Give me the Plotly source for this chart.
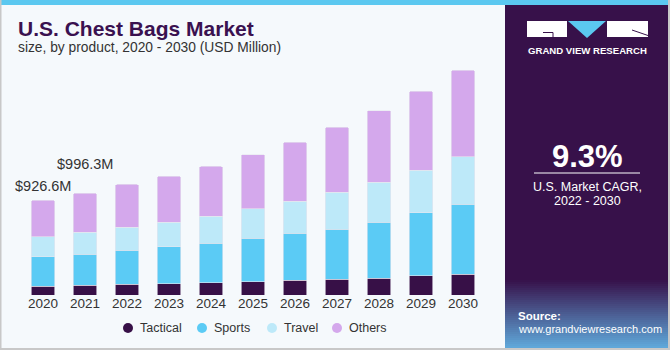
import plotly.graph_objects as go

years = ["2020", "2021", "2022", "2023", "2024", "2025", "2026", "2027", "2028", "2029", "2030"]
tactical = [88, 94, 104, 110, 120, 130, 144, 153, 166, 186, 202]
sports = [287, 307, 332, 361, 388, 427, 462, 491, 547, 618, 687]
travel = [193, 211, 225, 241, 264, 286, 312, 361, 391, 417, 462]
others = [358.6, 384.3, 420, 449, 485, 531, 576, 635, 700, 771, 849]
labels = {"2020": "$926.6M", "2021": "$996.3M"}
label_shift = {"2020": 14, "2021": 29}

colors = {"Tactical": "#371047", "Sports": "#5BCBF5", "Travel": "#BDE9F9", "Others": "#D4A8EC"}
W, H = 670, 350

fig = go.Figure()
series = [("Tactical", tactical), ("Sports", sports), ("Travel", travel), ("Others", others)]
for name, vals in series:
    fig.add_trace(go.Bar(x=years, y=vals, name=name, showlegend=False,
                         marker=dict(color=colors[name], line=dict(width=0.6, color="#E6E6EE"))))

totals = [a + b + c + d for a, b, c, d in zip(tactical, sports, travel, others)]
for i, y in enumerate(years):
    if y in labels:
        fig.add_annotation(x=i, y=totals[i], text=labels[y], showarrow=False, xref="x", yref="y",
                           yanchor="middle", yshift=label_shift[y], xshift=0,
                           font=dict(size=14.5, color="#333333", family="Liberation Sans"))

shapes = []
def px(x0, y0, x1, y1, **kw):
    d = dict(type="rect", xref="paper", yref="paper", x0=x0 / W, x1=x1 / W, y0=1 - y1 / H, y1=1 - y0 / H, layer="below")
    d.update(kw)
    return d

shapes.append(px(0, 0, W, H, fillcolor="#F5F9FC", line=dict(width=0)))
shapes.append(px(505, 0, 668, 348, fillcolor="#37114A", line=dict(width=0)))
c0 = (55, 17, 74)
c1 = (96, 170, 220)
n = 34
y_start, y_end = 280, 348
for k in range(n):
    t = (k + 0.5) / n
    r = int(c0[0] + (c1[0] - c0[0]) * t)
    g = int(c0[1] + (c1[1] - c0[1]) * t)
    b = int(c0[2] + (c1[2] - c0[2]) * t)
    ya = y_start + (y_end - y_start) * k / n
    yb = y_start + (y_end - y_start) * (k + 1) / n + 0.5
    shapes.append(px(505, ya, 668, yb, fillcolor=f"rgb({r},{g},{b})", line=dict(width=0)))
shapes.append(px(0, 0, W, 5, fillcolor="#5BC8F0", line=dict(width=0)))
shapes.append(px(0, 0, 1.5, H, fillcolor="#C8C8C8", line=dict(width=0)))
shapes.append(px(668, 0, W, H, fillcolor="#C8C8C8", line=dict(width=0)))
shapes.append(px(0, 348, W, H, fillcolor="#C8C8C8", line=dict(width=0)))

def ln(x0, y0, x1, y1, color, w):
    return dict(type="line", xref="paper", yref="paper", x0=x0 / W, x1=x1 / W, y0=1 - y0 / H, y1=1 - y1 / H,
                line=dict(color=color, width=w), layer="above")

shapes.append(px(527, 21, 567, 37, fillcolor="white", line=dict(width=0), layer="above"))
shapes.append(px(607, 21, 648, 37, fillcolor="white", line=dict(width=0), layer="above"))
shapes.append(dict(type="path", xref="paper", yref="paper",
                   path=f"M {568/W},{1-21/H} L {606/W},{1-21/H} L {587/W},{1-38/H} Z",
                   fillcolor="#5BC8F0", line=dict(width=0), layer="above"))
shapes.append(ln(543, 32.5, 553, 32.5, "#37114A", 1))
shapes.append(ln(553, 32.5, 553, 37, "#37114A", 1))
shapes.append(ln(632, 30, 648, 35.5, "#37114A", 1))
shapes.append(ln(534, 173, 640, 173, "#FFFFFF", 1))

# custom legend (circle markers + text)
legend_x = [128, 202, 272, 337]
legend_y = 328
for (name, _), lx in zip(series, legend_x):
    shapes.append(dict(type="circle", xref="paper", yref="paper",
                       x0=(lx - 5) / W, x1=(lx + 5) / W, y0=1 - (legend_y + 5) / H, y1=1 - (legend_y - 5) / H,
                       fillcolor=colors[name], line=dict(width=0), layer="above"))

fig.update_layout(shapes=shapes)

def ann(x, y, text, size, color, bold=False, xanchor="left", family="Liberation Sans"):
    fig.add_annotation(x=x / W, y=1 - y / H, xref="paper", yref="paper", text=f"<b>{text}</b>" if bold else text,
                       showarrow=False, xanchor=xanchor, yanchor="middle",
                       font=dict(size=size, color=color, family=family))

for (name, _), lx in zip(series, legend_x):
    ann(lx + 10, legend_y, name, 12.5, "#333333")

ann(16, 29, "U.S. Chest Bags Market", 21, "#3A1150", bold=True)
ann(16, 48, "size, by product, 2020 - 2030 (USD Million)", 13.8, "#333333")
ann(587.5, 51, "GRAND VIEW RESEARCH", 9.6, "#FFFFFF", bold=True, xanchor="center")
ann(587.5, 156, "9.3%", 31, "#FFFFFF", bold=True, xanchor="center")
ann(587.5, 187, "U.S. Market CAGR,", 12.5, "#FFFFFF", xanchor="center")
ann(587.5, 201, "2022 - 2030", 12.5, "#FFFFFF", xanchor="center")
ann(516, 316, "Source:", 11.5, "#FFFFFF", bold=True)
ann(516, 329, "www.grandviewresearch.com", 11, "#FFFFFF")

plot_l, plot_r = 22, 484
plot_t, plot_b = 60, 295
yr = (plot_b - plot_t) * 9.78

fig.update_layout(
    width=W, height=H,
    margin=dict(l=0, r=0, t=0, b=0, autoexpand=False),
    paper_bgcolor="#F5F9FC", plot_bgcolor="rgba(0,0,0,0)",
    barmode="stack", bargap=0.43, barcornerradius=2,
    font=dict(family="Liberation Sans", color="#333333"),
    xaxis=dict(type="category", categoryorder="array", categoryarray=years, range=[-0.5, 10.5],
               domain=[plot_l / W, plot_r / W], showgrid=False, showline=False, zeroline=False,
               tickfont=dict(size=13.5, color="#333333"), ticks="", automargin=False, anchor="y",
               ticklabelstandoff=-2),
    yaxis=dict(domain=[1 - plot_b / H, 1 - plot_t / H], range=[0, yr], visible=False, showgrid=False,
               automargin=False),
    showlegend=False,
)

fig.write_html("out.html")
